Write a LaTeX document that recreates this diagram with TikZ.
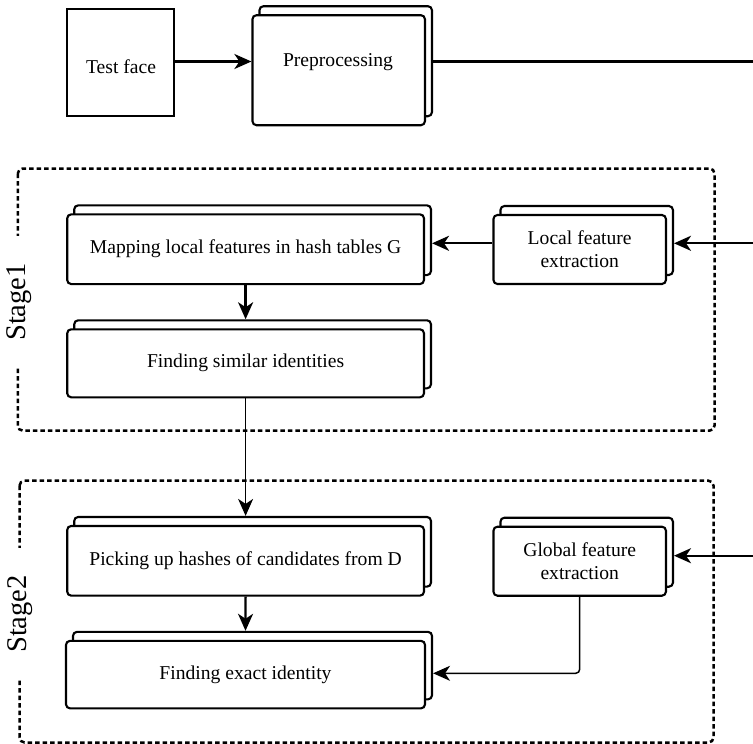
\documentclass[tikz,border=0pt]{standalone}
\usepackage{fontspec}
\setmainfont{Liberation Serif}
\usetikzlibrary{shadows,calc,arrows.meta}
\begin{document}
\begin{tikzpicture}[x=1pt,y=-1pt,
  box/.style={draw,line width=2.1pt,fill=white,rounded corners=4pt,inner sep=0pt,
    font=\fontsize{19.6}{23}\selectfont,align=center,
    copy shadow={shadow xshift=7pt,shadow yshift=9pt}},
  plainbox/.style={draw,line width=2.1pt,fill=white,inner sep=0pt},
  arr/.style={line width=2.3pt,-{Stealth[length=17pt,width=15pt,inset=5pt]}},
  thinarr/.style={line width=1.5pt,-{Stealth[length=17pt,width=15pt,inset=5pt]}},
  link/.style={line width=2.3pt},
  stage/.style={draw,line width=2.5pt,dash pattern=on 4.5pt off 3pt,rounded corners=5pt},
  stagelabel/.style={fill=white,rotate=90,font=\fontsize{28.5}{30}\selectfont,inner xsep=27pt,inner ysep=2pt}
]
\useasboundingbox (0,0) rectangle (753,744);

% stage frames
\draw[stage] (17.8,168.5) rectangle (714.5,430.7);
\draw[stage] (19.5,480.7) rectangle (713.5,742.5);
\node[stagelabel] (s1) at (19,302) {Stage1};
\node[stagelabel] (s2) at (20,614) {Stage2};

% boxes
\node[plainbox,minimum width=107pt,minimum height=106.7pt] (test) at (120.8,62.7) {};
\node[font=\fontsize{19.6}{23}\selectfont] (testt) at (121,66.5) {Test face};
\node[box,minimum width=172.5pt,minimum height=110pt] (pre) at (338.7,70.2) {};
\node[font=\fontsize{19.6}{23}\selectfont] (pret) at (338,62.5) {Preprocessing};

\node[box,minimum width=356.8pt,minimum height=69.7pt] (map) at (245.6,249.2) {Mapping local features in hash tables G};
\node[box,minimum width=172.5pt,minimum height=69pt] (loc) at (579.7,249.5) {Local feature\\extraction};
\node[box,minimum width=356.8pt,minimum height=68pt] (find) at (245.6,363.3) {Finding similar identities};

\node[box,minimum width=356.8pt,minimum height=69.7pt] (pick) at (245.6,560.8) {Picking up hashes of candidates from D};
\node[box,minimum width=172.5pt,minimum height=69pt] (glob) at (579.7,561.2) {Global feature\\extraction};
\node[box,minimum width=359pt,minimum height=67.5pt] (exact) at (245.5,674.6) {Finding exact identity};

% free ends at the right edge
\coordinate (preout) at (753,61.5);
\coordinate (locin) at (753,243.3);
\coordinate (globin) at (753,555.7);
\coordinate (exactin) at (0,673.3);

% connectors
\draw[arr] (test.east |- preout) -- (test.east |- preout -| pre.west);
\draw[link] ($(pre.east |- preout)+(7,0)$) -- (preout);
\draw[arr] (locin) -- ($(locin -| loc.east)+(7,0)$);
\draw[arr] (loc.west |- locin) -- ($(map.east |- locin)+(7,0)$);
\draw[arr] (map.south) -- ($(find.north)+(0,-9)$);
\draw[thinarr] (find.south) -- ($(pick.north)+(0,-9)$);
\draw[arr] (pick.south) -- ($(exact.north)+(0,-9)$);
\draw[arr] (globin) -- ($(globin -| glob.east)+(7,0)$);
\draw[thinarr,rounded corners=4pt] (glob.south) -- (glob.south |- exactin) -- ($(exact.east |- exactin)+(7,0)$);
\end{tikzpicture}
\end{document}
